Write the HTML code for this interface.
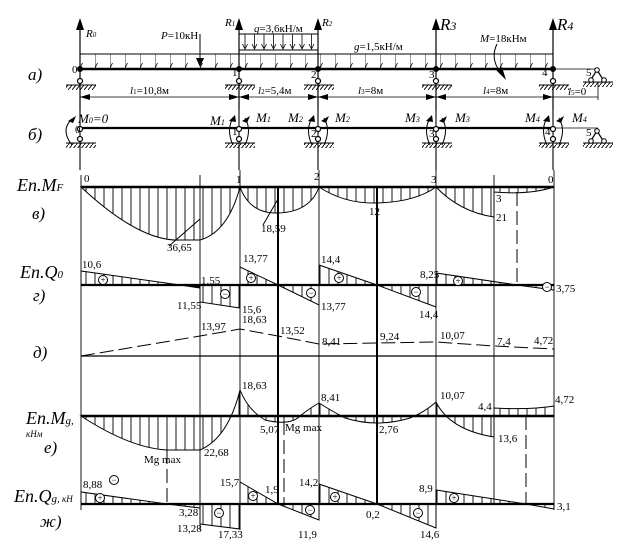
<!DOCTYPE html>
<html><head><meta charset="utf-8"><style>
html,body{margin:0;padding:0;background:#fff;}
svg{display:block;}
text{font-family:"Liberation Serif",serif;fill:#000;}
.n{font-size:11px;}
.it{font-style:italic;}
.s{font-size:9px;}
</style></head><body>
<svg width="623" height="546" viewBox="0 0 623 546" xmlns="http://www.w3.org/2000/svg">
<defs>
<pattern id="h" patternUnits="userSpaceOnUse" width="9" height="10" x="1" y="0"><line x1="4" y1="0" x2="4" y2="10" stroke="#000" stroke-width="0.9"/></pattern>
<pattern id="gr" patternUnits="userSpaceOnUse" width="4" height="5"><line x1="0" y1="5" x2="4" y2="0" stroke="#000" stroke-width="0.9"/></pattern>
<pattern id="ar" patternUnits="userSpaceOnUse" width="15" height="15" x="80" y="54"><line x1="0" y1="0" x2="0" y2="13" stroke="#000" stroke-width="0.8"/><path d="M-2.5,9 L0,14 L2.5,9" fill="none" stroke="#000" stroke-width="0.8"/></pattern>
<pattern id="aq" patternUnits="userSpaceOnUse" width="9.5" height="16" x="241" y="34"><line x1="4" y1="0" x2="4" y2="14" stroke="#000" stroke-width="0.8"/><path d="M1.5,10 L4,15 L6.5,10" fill="none" stroke="#000" stroke-width="0.8"/></pattern>
</defs>

<!-- a) beam -->
<rect x="80" y="54" width="473" height="15" fill="url(#ar)"/>
<line x1="80" y1="54" x2="553" y2="54" stroke="#000" stroke-width="1"/>
<rect x="239" y="34" width="79" height="16" fill="url(#aq)"/>
<line x1="239" y1="34" x2="318" y2="34" stroke="#000"/>
<line x1="239" y1="50" x2="318" y2="50" stroke="#000"/>
<line x1="80" y1="69" x2="553" y2="69" stroke="#000" stroke-width="2.5"/>
<line x1="553" y1="69" x2="598" y2="69" stroke="#000" stroke-width="0.8"/>
<line x1="200" y1="34" x2="200" y2="58" stroke="#000" stroke-width="1"/>
<path d="M196,58 L200,67 L204,58z" fill="#000"/>
<g stroke="#000" stroke-width="1.2" fill="none">
<line x1="80" y1="26" x2="80" y2="110"/><line x1="239" y1="26" x2="239" y2="110"/><line x1="318" y1="26" x2="318" y2="110"/><line x1="436" y1="26" x2="436" y2="110"/><line x1="553" y1="26" x2="553" y2="110"/>
</g>
<g fill="#000"><path d="M76,30 L80,18 L84,30z"/><path d="M235,30 L239,18 L243,30z"/><path d="M314,30 L318,18 L322,30z"/><path d="M432,30 L436,18 L440,30z"/><path d="M549,30 L553,18 L557,30z"/></g>
<g fill="#000" stroke="#000">
<circle cx="80" cy="69" r="2.5"/><circle cx="239" cy="69" r="2.5"/><circle cx="318" cy="69" r="2.5"/><circle cx="436" cy="69" r="2.5"/><circle cx="553" cy="69" r="2.5"/>
</g>
<g fill="#fff" stroke="#000" stroke-width="1.2">
<circle cx="80" cy="81" r="2.5"/><circle cx="239" cy="81" r="2.5"/><circle cx="318" cy="81" r="2.5"/><circle cx="436" cy="81" r="2.5"/><circle cx="553" cy="81" r="2.5"/>
</g>
<g>
<rect x="66" y="85" width="30" height="5" fill="url(#gr)"/><rect x="225" y="85" width="30" height="5" fill="url(#gr)"/><rect x="304" y="85" width="30" height="5" fill="url(#gr)"/><rect x="422" y="85" width="30" height="5" fill="url(#gr)"/><rect x="539" y="85" width="30" height="5" fill="url(#gr)"/><rect x="583" y="82" width="30" height="5" fill="url(#gr)"/>
<g stroke="#000" stroke-width="1"><line x1="66" y1="85" x2="96" y2="85"/><line x1="225" y1="85" x2="255" y2="85"/><line x1="304" y1="85" x2="334" y2="85"/><line x1="422" y1="85" x2="452" y2="85"/><line x1="539" y1="85" x2="569" y2="85"/><line x1="583" y1="82" x2="613" y2="82"/></g>
</g>
<path d="M590,81 L597,70 L604,81" fill="none" stroke="#000" stroke-width="1.2"/>
<g fill="#fff" stroke="#000"><circle cx="597" cy="70" r="2.3"/><circle cx="591" cy="80" r="2.3"/><circle cx="604" cy="80" r="2.3"/></g>
<line x1="598" y1="82" x2="598" y2="100" stroke="#000" stroke-width="0.8"/>
<g stroke="#000" stroke-width="0.8"><line x1="80" y1="97" x2="598" y2="97"/></g>
<g fill="#000">
<path d="M80,97 l10,-3 v6z"/><path d="M239,97 l-10,-3 v6z"/><path d="M239,97 l10,-3 v6z"/><path d="M318,97 l-10,-3 v6z"/><path d="M318,97 l10,-3 v6z"/><path d="M436,97 l-10,-3 v6z"/><path d="M436,97 l10,-3 v6z"/><path d="M553,97 l-10,-3 v6z"/>
</g>
<text x="130" y="94" class="n"><tspan class="it">l</tspan><tspan font-size="7">1</tspan>=10,8м</text>
<text x="258" y="94" class="n"><tspan class="it">l</tspan><tspan font-size="7">2</tspan>=5,4м</text>
<text x="358" y="94" class="n"><tspan class="it">l</tspan><tspan font-size="7">3</tspan>=8м</text>
<text x="483" y="94" class="n"><tspan class="it">l</tspan><tspan font-size="7">4</tspan>=8м</text>
<text x="568" y="95" class="n" font-size="10"><tspan class="it">l</tspan><tspan font-size="7">5</tspan>=0</text>
<text x="86" y="37" class="n it">R<tspan font-size="7">0</tspan></text>
<text x="225" y="26" class="n it">R<tspan font-size="7">1</tspan></text>
<text x="322" y="26" class="n it">R<tspan font-size="7">2</tspan></text>
<text x="440" y="30" font-size="17" class="it">R<tspan font-size="12">3</tspan></text>
<text x="557" y="30" font-size="17" class="it">R<tspan font-size="12">4</tspan></text>
<text x="161" y="39" class="n"><tspan class="it">P</tspan>=10кН</text>
<text x="254" y="32" class="n"><tspan class="it">q</tspan>=3,6кН/м</text>
<text x="354" y="50" class="n"><tspan class="it">g</tspan>=1,5кН/м</text>
<text x="480" y="42" class="n"><tspan class="it">M</tspan>=18кНм</text>
<path d="M497,44 Q490,58 500,72" fill="none" stroke="#000"/>
<path d="M496,70 L506,80 L502,67z" fill="#000"/>
<text x="72" y="73" class="n">0</text><text x="232" y="76" class="n">1</text><text x="311" y="78" class="n">2</text><text x="429" y="78" class="n">3</text><text x="542" y="76" class="n">4</text><text x="586" y="76" class="n">5</text>
<text x="28" y="80" font-size="17" class="it">а)</text>

<!-- b) beam -->
<line x1="80" y1="128" x2="553" y2="128" stroke="#000" stroke-width="2.2"/>
<line x1="553" y1="128" x2="598" y2="128" stroke="#000" stroke-width="0.8"/>
<g stroke="#000" stroke-width="1.1"><line x1="80" y1="110" x2="80" y2="170"/><line x1="239" y1="110" x2="239" y2="170"/><line x1="318" y1="110" x2="318" y2="170"/><line x1="436" y1="110" x2="436" y2="170"/><line x1="553" y1="110" x2="553" y2="170"/></g>
<g fill="#fff" stroke="#000" stroke-width="1.2">
<circle cx="80" cy="129" r="2.5"/><circle cx="239" cy="129" r="2.5"/><circle cx="318" cy="129" r="2.5"/><circle cx="436" cy="129" r="2.5"/><circle cx="553" cy="129" r="2.5"/>
<circle cx="80" cy="139" r="2.5"/><circle cx="239" cy="139" r="2.5"/><circle cx="318" cy="139" r="2.5"/><circle cx="436" cy="139" r="2.5"/><circle cx="553" cy="139" r="2.5"/>
</g>
<rect x="66" y="143" width="30" height="5" fill="url(#gr)"/><rect x="225" y="143" width="30" height="5" fill="url(#gr)"/><rect x="304" y="143" width="30" height="5" fill="url(#gr)"/><rect x="422" y="143" width="30" height="5" fill="url(#gr)"/><rect x="539" y="143" width="30" height="5" fill="url(#gr)"/><rect x="583" y="143" width="30" height="5" fill="url(#gr)"/>
<g stroke="#000"><line x1="66" y1="143" x2="96" y2="143"/><line x1="225" y1="143" x2="255" y2="143"/><line x1="304" y1="143" x2="334" y2="143"/><line x1="422" y1="143" x2="452" y2="143"/><line x1="539" y1="143" x2="569" y2="143"/><line x1="583" y1="143" x2="613" y2="143"/></g>
<path d="M590,142 L597,131 L604,142" fill="none" stroke="#000" stroke-width="1.2"/>
<g fill="#fff" stroke="#000"><circle cx="597" cy="131" r="2.3"/><circle cx="591" cy="141" r="2.3"/><circle cx="604" cy="141" r="2.3"/></g>
<g fill="none" stroke="#000" stroke-width="1">
<path d="M72,145 Q60,130 72,119"/><path d="M233,145 Q226,130 233,118"/><path d="M245,145 Q252,130 245,118"/><path d="M312,145 Q305,130 312,118"/><path d="M324,145 Q331,130 324,118"/><path d="M430,145 Q423,130 430,118"/><path d="M442,145 Q449,130 442,118"/><path d="M547,145 Q540,130 547,118"/><path d="M559,145 Q566,130 559,118"/>
</g>
<g fill="#000"><path d="M68,121 l8,-5 l-3,7z"/><path d="M229,121 l6,-6 l1,7z"/><path d="M242,121 l8,-5 l-3,7z"/><path d="M308,121 l6,-6 l1,7z"/><path d="M321,121 l8,-5 l-3,7z"/><path d="M426,121 l6,-6 l1,7z"/><path d="M439,121 l8,-5 l-3,7z"/><path d="M543,121 l6,-6 l1,7z"/><path d="M556,121 l8,-5 l-3,7z"/></g>
<text x="78" y="123" font-size="13" class="it">M<tspan font-size="8">0</tspan>=0</text>
<text x="210" y="125" font-size="13" class="it">M<tspan font-size="8">1</tspan></text>
<text x="256" y="122" font-size="13" class="it">M<tspan font-size="8">1</tspan></text>
<text x="288" y="122" font-size="13" class="it">M<tspan font-size="8">2</tspan></text>
<text x="335" y="122" font-size="13" class="it">M<tspan font-size="8">2</tspan></text>
<text x="405" y="122" font-size="13" class="it">M<tspan font-size="8">3</tspan></text>
<text x="455" y="122" font-size="13" class="it">M<tspan font-size="8">3</tspan></text>
<text x="525" y="122" font-size="13" class="it">M<tspan font-size="8">4</tspan></text>
<text x="572" y="122" font-size="13" class="it">M<tspan font-size="8">4</tspan></text>
<text x="75" y="133" class="n">0</text><text x="232" y="135" class="n">1</text><text x="311" y="137" class="n">2</text><text x="429" y="137" class="n">3</text><text x="545" y="135" class="n">4</text><text x="586" y="136" class="n">5</text>
<text x="28" y="140" font-size="17" class="it">б)</text>

<!-- grid verticals -->
<g stroke="#000" stroke-width="0.9">
<line x1="81" y1="175" x2="81" y2="510"/><line x1="200" y1="175" x2="200" y2="530"/><line x1="240" y1="170" x2="240" y2="530"/><line x1="319" y1="170" x2="319" y2="520"/><line x1="436" y1="170" x2="436" y2="528"/><line x1="494" y1="175" x2="494" y2="505"/><line x1="554" y1="170" x2="554" y2="510"/>
</g>
<g stroke="#000" stroke-width="2"><line x1="278" y1="187" x2="278" y2="505"/><line x1="377" y1="187" x2="377" y2="505"/></g>
<g stroke="#000" stroke-width="1" stroke-dasharray="14,5"><line x1="517" y1="192" x2="517" y2="285"/><line x1="167" y1="450" x2="167" y2="504"/><line x1="284" y1="421" x2="284" y2="504"/><line x1="526" y1="416" x2="526" y2="504"/></g>

<!-- MF -->
<path d="M81,187 Q140,242 180,240 L200,240 Q228,232 240,187 Z" fill="url(#h)" stroke="#000"/>
<path d="M240,187 Q250,214 278,213 Q310,212 319,187 Z" fill="url(#h)" stroke="#000"/>
<path d="M319,187 Q345,204 377,203 Q415,202 436,187 Z" fill="url(#h)" stroke="#000"/>
<path d="M436,187 Q460,212 494,217 L494,187 Z" fill="url(#h)" stroke="#000"/>
<path d="M494,187 L494,192 Q530,195 554,187 Z" fill="url(#h)" stroke="#000"/>
<line x1="81" y1="187" x2="554" y2="187" stroke="#000" stroke-width="2.5"/>
<line x1="169" y1="246" x2="200" y2="219" stroke="#000"/>
<line x1="263" y1="225" x2="278" y2="199" stroke="#000"/>
<text x="84" y="182" class="n">0</text><text x="236" y="183" class="n">1</text><text x="314" y="180" class="n">2</text><text x="431" y="183" class="n">3</text><text x="548" y="183" class="n">0</text>
<text x="167" y="251" class="n">36,65</text><text x="261" y="232" class="n">18,59</text><text x="369" y="215" class="n">12</text><text x="496" y="202" class="n">3</text><text x="496" y="221" class="n">21</text>
<text x="17" y="191" font-size="18" class="it">Еп.М<tspan font-size="11">F</tspan></text>
<text x="32" y="219" font-size="17" class="it">в)</text>

<!-- Q0 -->
<path d="M81,285 L81,271 L180,285 Z" fill="url(#h)" stroke="#000"/>
<path d="M180,285 L200,288 L200,285Z" fill="#000" stroke="#000"/>
<path d="M200,285 L200,302 L240,308 L240,285 Z" fill="url(#h)" stroke="#000"/>
<path d="M240,285 L240,267 L278,285 Z" fill="url(#h)" stroke="#000"/>
<path d="M278,285 L319,305 L319,285 Z" fill="url(#h)" stroke="#000"/>
<path d="M319,285 L319,265 L377,285 Z" fill="url(#h)" stroke="#000"/>
<path d="M377,285 L436,307 L436,285 Z" fill="url(#h)" stroke="#000"/>
<path d="M436,285 L436,273 L517,285 Z" fill="url(#h)" stroke="#000"/>
<path d="M517,285 L554,290 L554,285 Z" fill="url(#h)" stroke="#000"/>
<line x1="81" y1="285" x2="554" y2="285" stroke="#000" stroke-width="2.2"/>
<g fill="#fff" stroke="#000"><circle cx="103" cy="280" r="4.5"/><circle cx="251" cy="278" r="4.5"/><circle cx="225" cy="294" r="4.5"/><circle cx="311" cy="293" r="4.5"/><circle cx="339" cy="278" r="4.5"/><circle cx="416" cy="292" r="4.5"/><circle cx="458" cy="281" r="4.5"/><circle cx="547" cy="287" r="4.5"/></g>
<g class="s" text-anchor="middle"><text x="103" y="283" class="s">+</text><text x="251" y="281" class="s">+</text><text x="225" y="297" class="s">−</text><text x="311" y="296" class="s">−</text><text x="339" y="281" class="s">+</text><text x="416" y="295" class="s">−</text><text x="458" y="284" class="s">+</text><text x="547" y="290" class="s">−</text></g>
<text x="82" y="268" class="n">10,6</text><text x="201" y="284" class="n">1,55</text><text x="177" y="309" class="n">11,55</text><text x="242" y="313" class="n">15,6</text><text x="243" y="262" class="n">13,77</text><text x="321" y="310" class="n">13,77</text><text x="321" y="263" class="n">14,4</text><text x="419" y="318" class="n">14,4</text><text x="420" y="278" class="n">8,25</text><text x="556" y="292" class="n">3,75</text>
<text x="20" y="278" font-size="18" class="it">Еп.Q<tspan font-size="11">0</tspan></text>
<text x="33" y="301" font-size="17" class="it">г)</text>

<!-- d) -->
<line x1="81" y1="356" x2="554" y2="356" stroke="#000" stroke-width="1.2"/>
<line x1="554" y1="349" x2="554" y2="356" stroke="#000"/>
<polyline points="81,356 200,336 240,329 278,336 319,344 377,343 436,342 494,346 554,349" fill="none" stroke="#000" stroke-width="1" stroke-dasharray="14,5"/>
<text x="201" y="330" class="n">13,97</text><text x="242" y="323" class="n">18,63</text><text x="280" y="334" class="n">13,52</text><text x="322" y="345" class="n">8,41</text><text x="380" y="340" class="n">9,24</text><text x="440" y="339" class="n">10,07</text><text x="497" y="345" class="n">7,4</text><text x="534" y="344" class="n">4,72</text>
<text x="33" y="358" font-size="17" class="it">д)</text>

<!-- Mg -->
<path d="M81,416 Q130,448 167,450 L200,450 Q228,438 240,390 L240,416 Z" fill="url(#h)" stroke="#000"/>
<path d="M240,416 L240,390 Q248,410 265,420 Q290,426 300,416 Z" fill="url(#h)" stroke="#000"/>
<path d="M300,416 Q310,408 319,403 L319,416 Z" fill="url(#h)" stroke="#000"/>
<path d="M319,403 Q330,410 345,418 Q377,428 410,418 Q425,412 436,402 L436,416 L319,416Z" fill="url(#h)" stroke="#000"/>
<path d="M436,402 Q450,430 494,437 L494,416 L436,416Z" fill="url(#h)" stroke="#000"/>
<path d="M494,416 L494,408 Q530,410 554,406 L554,416Z" fill="url(#h)" stroke="#000"/>
<line x1="81" y1="416" x2="554" y2="416" stroke="#000" stroke-width="2.5"/>
<text x="242" y="389" class="n">18,63</text><text x="204" y="456" class="n">22,68</text><text x="144" y="463" class="n">Mg max</text><text x="260" y="433" class="n">5,07</text><text x="285" y="431" class="n">Mg max</text><text x="321" y="401" class="n">8,41</text><text x="379" y="433" class="n">2,76</text><text x="440" y="399" class="n">10,07</text><text x="478" y="410" class="n">4,4</text><text x="498" y="442" class="n">13,6</text><text x="555" y="403" class="n">4,72</text>
<text x="26" y="424" font-size="18" class="it">Еп.М<tspan font-size="11">g,</tspan></text>
<text x="26" y="437" font-size="9" class="it">кНм</text>
<text x="44" y="453" font-size="17" class="it">е)</text>

<!-- Qg -->
<path d="M81,504 L81,492 L167,504 Z" fill="url(#h)" stroke="#000"/>
<path d="M167,504 L200,508 L200,504Z" fill="url(#h)" stroke="#000"/>
<path d="M200,504 L200,524 L240,529 L240,504Z" fill="url(#h)" stroke="#000"/>
<path d="M240,504 L240,482 L278,504Z" fill="url(#h)" stroke="#000"/>
<path d="M278,504 L319,520 L319,504Z" fill="url(#h)" stroke="#000"/>
<path d="M319,504 L319,484 L377,504Z" fill="url(#h)" stroke="#000"/>
<path d="M377,504 L436,528 L436,504Z" fill="url(#h)" stroke="#000"/>
<path d="M436,504 L436,490 L526,504Z" fill="url(#h)" stroke="#000"/>
<path d="M526,504 L554,509 L554,504Z" fill="url(#h)" stroke="#000"/>
<line x1="81" y1="504" x2="554" y2="504" stroke="#000" stroke-width="2.2"/>
<g fill="#fff" stroke="#000"><circle cx="114" cy="480" r="4.5"/><circle cx="100" cy="498" r="4.5"/><circle cx="219" cy="513" r="4.5"/><circle cx="253" cy="496" r="4.5"/><circle cx="310" cy="510" r="4.5"/><circle cx="335" cy="497" r="4.5"/><circle cx="418" cy="513" r="4.5"/><circle cx="454" cy="498" r="4.5"/></g>
<g class="s" text-anchor="middle"><text x="114" y="483" class="s">−</text><text x="100" y="501" class="s">+</text><text x="219" y="516" class="s">−</text><text x="253" y="499" class="s">+</text><text x="310" y="513" class="s">−</text><text x="335" y="500" class="s">+</text><text x="418" y="516" class="s">−</text><text x="454" y="501" class="s">+</text></g>
<text x="83" y="488" class="n">8,88</text><text x="179" y="516" class="n">3,28</text><text x="177" y="532" class="n">13,28</text><text x="218" y="538" class="n">17,33</text><text x="220" y="486" class="n">15,7</text><text x="265" y="493" class="n">1,9</text><text x="298" y="538" class="n">11,9</text><text x="299" y="486" class="n">14,2</text><text x="366" y="518" class="n">0,2</text><text x="420" y="538" class="n">14,6</text><text x="419" y="492" class="n">8,9</text><text x="557" y="510" class="n">3,1</text>
<text x="14" y="502" font-size="18" class="it">Еп.Q<tspan font-size="11">g,</tspan><tspan font-size="9"> кН</tspan></text>
<text x="40" y="527" font-size="17" class="it">ж)</text>
</svg>
</body></html>
